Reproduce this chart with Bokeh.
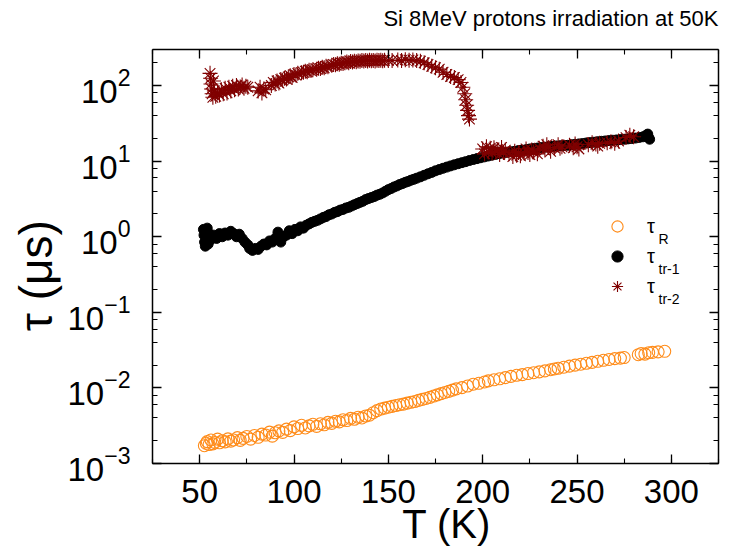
from bokeh.plotting import figure
from bokeh.models import (LinearAxis, LogAxis, Range1d, SingleIntervalTicker, LogTicker,
                          Legend, LegendItem, Label, ColumnDataSource, CustomJSTickFormatter)
from bokeh.embed import file_html
from bokeh.resources import INLINE

# ---------------- data ----------------
title_text = "Si 8MeV protons irradiation at 50K"
x_label = "T (K)"
y_label = "τ (μs)"
legend_base = ["τ", "τ", "τ"]
legend_subs = ["R", "tr-1", "tr-2"]

T_R = [52.5, 53.5, 54.0, 55.0, 56.0, 57.0, 58.0, 59.5, 60.5, 62.0, 63.5, 65.0, 66.5, 68.0, 70.0,
       71.5, 73.0, 75.0, 77.0, 79.0, 81.0, 83.0, 85.0, 87.0, 88.5, 90.0, 92.0, 94.0, 96.0, 98.0,
       100.0, 102.0, 104.0, 106.0, 108.0, 110.0, 112.0, 114.0, 116.0, 118.0, 120.0, 122.0, 124.0,
       126.0, 128.0, 130.0, 132.0, 134.0, 136.0, 138.0, 140.0, 142.0, 144.0, 146.0, 148.0, 150.0,
       152.0, 154.0, 156.0, 158.0, 160.0, 162.0, 164.0, 166.0, 168.0, 170.0, 172.0, 174.0, 176.0,
       178.0, 180.0, 182.0, 184.0, 186.0, 189.0, 192.0, 195.0, 198.0, 201.0, 203.0, 206.0, 209.0,
       212.0, 215.0, 218.0, 221.0, 224.0, 227.0, 230.0, 233.0, 236.0, 238.0, 240.0, 243.0, 246.0,
       249.0, 252.0, 255.0, 258.0, 261.0, 264.0, 267.0, 270.0, 273.0, 275.0, 282.5, 284.0, 286.0,
       288.0, 290.0, 293.0, 296.5]
tau_R = [1.72e-3, 1.85e-3, 1.95e-3, 1.78e-3, 2.05e-3, 1.82e-3, 1.90e-3, 2.10e-3, 1.88e-3, 2.00e-3,
         1.93e-3, 2.12e-3, 1.98e-3, 2.05e-3, 2.20e-3, 2.02e-3, 2.15e-3, 2.28e-3, 2.10e-3, 2.35e-3,
         2.22e-3, 2.45e-3, 2.38e-3, 2.60e-3, 2.30e-3, 2.55e-3, 2.70e-3, 2.58e-3, 2.85e-3, 2.72e-3,
         3.05e-3, 2.90e-3, 3.20e-3, 2.95e-3, 3.15e-3, 3.30e-3, 3.10e-3, 3.35e-3, 3.25e-3, 3.50e-3,
         3.40e-3, 3.62e-3, 3.55e-3, 3.80e-3, 3.70e-3, 3.95e-3, 3.85e-3, 4.10e-3, 4.00e-3, 4.25e-3,
         4.35e-3, 4.70e-3, 5.00e-3, 5.25e-3, 5.40e-3, 5.55e-3, 5.70e-3, 5.85e-3, 6.00e-3, 6.10e-3,
         6.30e-3, 6.45e-3, 6.60e-3, 6.85e-3, 7.05e-3, 7.25e-3, 7.50e-3, 7.80e-3, 8.10e-3, 8.40e-3,
         8.70e-3, 9.00e-3, 9.35e-3, 9.70e-3, 1.01e-2, 1.06e-2, 1.12e-2, 1.15e-2, 1.20e-2, 1.24e-2,
         1.28e-2, 1.32e-2, 1.37e-2, 1.42e-2, 1.47e-2, 1.50e-2, 1.55e-2, 1.59e-2, 1.63e-2, 1.68e-2,
         1.74e-2, 1.78e-2, 1.82e-2, 1.88e-2, 1.94e-2, 2.00e-2, 2.06e-2, 2.12e-2, 2.18e-2, 2.25e-2,
         2.32e-2, 2.38e-2, 2.44e-2, 2.48e-2, 2.52e-2, 2.75e-2, 2.85e-2, 2.80e-2, 2.92e-2, 2.95e-2,
         3.00e-2, 3.05e-2]

T_tr1 = [52.0, 52.3, 52.6, 53.0, 53.3, 53.7, 54.0, 54.5, 55.0, 56.0, 57.5, 59.0, 60.5, 62.0, 63.5,
         65.0, 66.5, 68.0, 69.5, 71.0, 72.5, 74.0, 75.5, 76.5, 78.0, 79.5, 81.0, 82.5, 84.0, 85.5,
         87.0, 88.5, 90.0, 91.5, 93.0, 94.5, 96.0, 97.5, 99.0, 100.5, 102.0, 103.5, 105.0, 106.5,
         108.0, 109.5, 111.0, 112.5, 114.0, 115.5, 117.0, 118.5, 120.0, 121.5, 123.0, 124.5, 126.0,
         127.5, 129.0, 130.5, 132.0, 133.5, 135.0, 136.5, 138.0, 139.5, 141.0, 142.5, 144.0, 145.5,
         147.0, 148.5, 150.0, 151.5, 153.0, 154.5, 156.0, 157.5, 159.0, 160.5, 162.0, 163.5, 165.0,
         167.0, 169.0, 171.0, 173.0, 175.0, 177.0, 179.0, 181.0, 183.0, 185.0, 187.0, 189.0, 191.0,
         193.0, 195.0, 197.0, 199.0, 201.0, 203.0, 205.0, 207.0, 209.0, 211.0, 213.0, 215.0, 217.0,
         219.0, 221.0, 223.0, 225.0, 227.0, 229.0, 231.0, 233.0, 235.0, 237.0, 239.0, 241.0, 243.0,
         245.0, 247.0, 249.0, 251.0, 253.0, 255.0, 257.0, 259.0, 261.0, 263.0, 265.0, 267.0, 269.0,
         271.0, 273.0, 275.0, 277.0, 279.0, 281.0, 283.0, 285.0, 286.5, 287.5, 288.0, 288.5]
tau_tr1 = [1.25, 1.05, 0.85, 0.75, 1.15, 0.95, 1.30, 0.80, 1.10, 0.92, 1.05, 0.95, 1.10, 1.00, 1.12,
           1.05, 1.18, 1.10, 1.00, 1.08, 0.95, 0.85, 0.78, 0.70, 0.66, 0.70, 0.68, 0.75, 0.80, 0.78,
           0.88, 0.85, 0.95, 1.15, 0.85, 1.00, 1.05, 1.20, 1.10, 1.25, 1.20, 1.35, 1.30, 1.42,
           1.48, 1.55, 1.60, 1.65, 1.72, 1.80, 1.85, 1.95, 2.00, 2.10, 2.15, 2.25, 2.30,
           2.40, 2.45, 2.55, 2.65, 2.75, 2.85, 2.95, 3.10, 3.20, 3.30, 3.40, 3.55, 3.65,
           3.80, 4.00, 4.20, 4.35, 4.55, 4.70, 4.90, 5.05, 5.25, 5.40, 5.60, 5.75, 5.95,
           6.20, 6.50, 6.80, 7.10, 7.45, 7.75, 8.05, 8.35, 8.65, 8.95, 9.25, 9.55, 9.85,
           10.2, 10.5, 10.8, 11.1, 11.4, 11.7, 12.0, 12.3, 12.6, 12.8, 13.1, 13.3, 13.5,
           13.8, 14.0, 14.2, 14.5, 14.7, 14.9, 15.1, 15.3, 15.5, 15.7, 15.9, 16.0, 16.1,
           16.2, 16.5, 16.7, 16.9, 17.1, 17.4, 17.6, 17.8, 18.1, 18.3, 18.5, 18.7, 18.9,
           19.1, 19.3, 19.5, 19.7, 19.9, 20.2, 20.6, 21.0, 21.8, 22.8, 20.5, 19.5]

T_tr2 = [55.5, 55.8, 56.0, 56.3, 56.6, 57.0, 57.3, 57.8, 58.5, 59.5, 60.5, 61.5, 62.5, 63.5, 64.5,
         65.5, 66.5, 67.5, 68.5, 69.5, 70.5, 71.5, 72.5, 73.5, 74.5, 75.5,
         81.0, 82.0, 83.0, 84.0, 85.0,
         88.0, 89.0, 90.0, 91.0, 92.0, 93.0, 94.0, 95.0, 96.0, 97.0, 98.0, 99.0, 100.0, 101.0, 102.0,
         104.0, 105.0, 106.0, 107.0, 108.0, 109.0, 110.0, 112.0, 113.0, 114.0, 115.0, 116.0, 117.0,
         118.0, 120.0, 121.0, 122.0, 123.0, 124.0, 125.0, 126.0, 127.0, 128.0, 129.0, 130.0, 131.0,
         132.0, 133.0, 134.0, 135.0, 136.0, 137.0, 138.0, 139.0, 140.0, 141.0, 142.0, 143.0, 144.0,
         145.0, 146.0, 147.0, 148.0, 150.0, 152.0, 155.0, 157.0, 159.0, 161.0, 163.0, 165.0, 167.0,
         169.0, 171.0, 173.0, 175.0, 177.0, 179.0, 181.0, 183.0, 185.0, 187.0, 188.5, 189.5, 190.5,
         191.0, 191.5, 192.0, 192.5, 193.0,
         200.0, 201.0, 202.0, 203.0, 204.0, 205.0, 206.0, 207.0, 208.0, 209.0, 210.0, 211.0, 212.0,
         214.0, 216.0, 217.0, 218.0, 219.0, 220.0, 222.0, 223.0, 224.0, 225.0, 226.0, 227.0, 229.0,
         230.0, 232.0, 233.0, 234.0, 235.0, 236.0, 238.0, 240.0, 241.0, 242.0, 246.0, 248.0, 249.0,
         250.0, 251.0, 256.0, 258.0, 260.0, 261.0, 262.0, 266.0, 268.0, 270.0, 272.0, 276.0, 278.0,
         280.0]
tau_tr2 = [145, 125, 105, 90, 78, 70, 115, 85, 72, 80, 75, 88, 78, 92, 80,
           95, 85, 98, 88, 100, 90, 96, 102, 92, 98, 95,
           85, 95, 80, 90, 88,
           100, 110, 105, 115, 108, 120, 118, 125, 122, 130, 135, 128, 140, 138, 145,
           148, 150, 155, 152, 160, 158, 162, 165, 170, 168, 175, 172, 180,
           178, 185, 190, 188, 195, 192, 198, 196, 200, 205, 200, 208, 205,
           210, 207, 212, 210, 214, 211, 215, 212, 216, 213, 215, 212, 216,
           214, 217, 213, 216, 215, 214, 218, 215, 220, 217, 218, 214, 210,
           200, 190, 180, 172, 165, 150, 140, 132, 128, 120, 110, 95, 78,
           65, 55, 47, 40, 36,
           14.5, 12.5, 15.5, 13.2, 14.8, 12.8, 15.0, 13.5, 14.2, 12.2, 15.2, 13.0, 14.0,
           12.5, 11.5, 13.5, 12.0, 13.0, 11.8, 12.8, 14.5, 13.0, 12.2, 14.0, 13.2, 12.5,
           14.8, 15.8, 14.0, 16.5, 15.2, 13.5, 15.0, 16.5, 14.8, 15.5, 16.2, 15.0, 16.8,
           15.5, 14.5, 16.5, 17.5, 16.8, 15.8, 17.2, 17.5, 18.0, 17.2, 18.5, 20.5, 22.0,
           21.0]

x_ticks_interval = 50
FONT = "Liberation Sans"
NBSP = "\u00a0"

# ---------------- figure ----------------
p = figure(width=733, height=551, y_axis_type="log",
           x_range=Range1d(25, 325), y_range=Range1d(1e-3, 300),
           output_backend="svg", toolbar_location=None,
           min_border_left=152, min_border_right=15, min_border_top=49, min_border_bottom=88,
           title=title_text)
p.xgrid.visible = False
p.ygrid.visible = False
p.outline_line_color = None
p.background_fill_color = "white"

p.title.align = "right"
p.title.text_font = FONT
p.title.text_font_size = "22px"
p.title.text_font_style = "normal"
p.title.text_color = "black"
p.title.standoff = 0

xticker = SingleIntervalTicker(interval=x_ticks_interval, num_minor_ticks=2)
blank = CustomJSTickFormatter(code="return ''")


def style_axis(ax):
    ax.axis_line_color = "black"
    ax.axis_line_width = 1.5
    ax.major_tick_line_color = "black"
    ax.minor_tick_line_color = "black"
    ax.major_tick_line_width = 1.3
    ax.minor_tick_line_width = 1.1
    ax.major_tick_in = 9
    ax.major_tick_out = 0
    ax.minor_tick_in = 5
    ax.minor_tick_out = 0
    ax.major_label_text_font = FONT
    ax.major_label_text_color = "black"
    ax.axis_label_text_font = FONT
    ax.axis_label_text_color = "black"
    ax.axis_label_text_font_style = "normal"


xa = p.xaxis[0]
xa.ticker = xticker
style_axis(xa)
xa.major_label_text_font_size = "33px"
xa.major_label_standoff = 16
xa.axis_label = NBSP + NBSP + x_label
xa.axis_label_text_font_size = "40px"
xa.axis_label_standoff = -4

ya = p.yaxis[0]
ya.ticker = LogTicker()
style_axis(ya)
ya.major_label_text_font_size = "33px"
ya.major_label_standoff = 22
ya.axis_label = y_label + NBSP + NBSP + NBSP
ya.axis_label_text_font_size = "46px"
ya.axis_label_standoff = 2

# top axis: ticks only; a blank spacer label lifts the title to the top edge
top_ax = LinearAxis(ticker=xticker, formatter=blank, major_label_standoff=0)
style_axis(top_ax)
top_ax.axis_label = NBSP
top_ax.axis_label_text_font_size = "14px"
top_ax.axis_label_standoff = 0
p.add_layout(top_ax, "above")
right_ax = LogAxis(ticker=LogTicker(), formatter=blank, major_label_standoff=0)
style_axis(right_ax)
p.add_layout(right_ax, "right")

# ---------------- data marks ----------------
src_R = ColumnDataSource(dict(T=T_R, tau=tau_R))
src_1 = ColumnDataSource(dict(T=T_tr1, tau=tau_tr1))
src_2 = ColumnDataSource(dict(T=T_tr2, tau=tau_tr2))

r_R = p.scatter("T", "tau", source=src_R, marker="circle", size=12,
                fill_color="white", fill_alpha=0.0, line_color="#ff8c1a", line_width=1.1)
r_1 = p.scatter("T", "tau", source=src_1, marker="circle", size=10,
                fill_color="black", line_color="black")
r_2 = p.scatter("T", "tau", source=src_2, marker="asterisk", size=15,
                line_color="#800000", line_width=1.1)

legend = Legend(items=[LegendItem(label=legend_base[0], renderers=[r_R]),
                       LegendItem(label=legend_base[1], renderers=[r_1]),
                       LegendItem(label=legend_base[2], renderers=[r_2])],
                location=(451, 163), orientation="vertical",
                glyph_width=28, glyph_height=28, label_height=20, label_width=10,
                label_standoff=16, spacing=2, padding=0, margin=0,
                border_line_alpha=0, background_fill_alpha=0,
                label_text_font=FONT, label_text_font_size="20px", label_text_color="black")
p.add_layout(legend)

for sub, ybase in zip(legend_subs, [225, 195, 165]):
    p.add_layout(Label(x=506, y=ybase, x_units="screen", y_units="screen", text=sub,
                       text_font=FONT, text_font_size="14px", text_color="black",
                       text_baseline="alphabetic"))

open("out.html", "w").write(file_html(p, INLINE))
